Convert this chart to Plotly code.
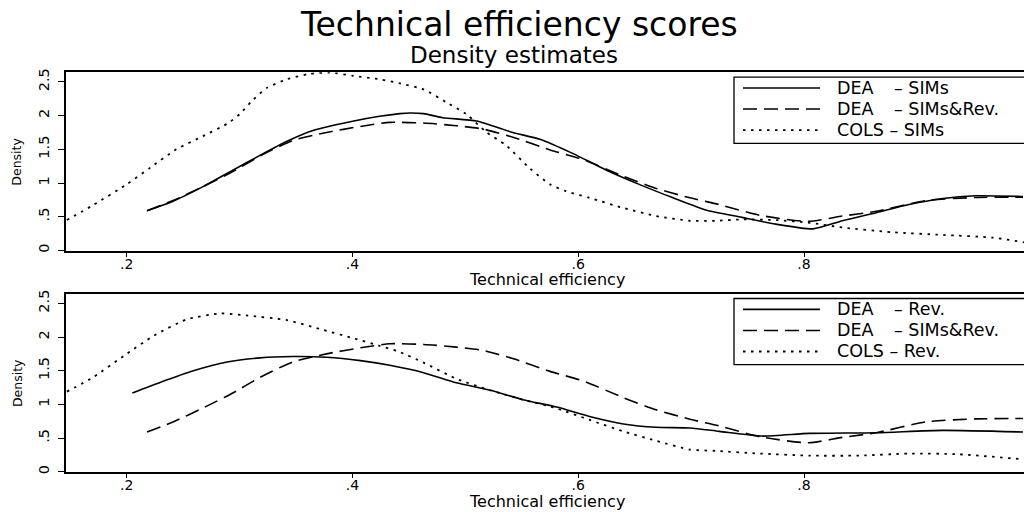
import plotly.graph_objects as go

W, H = 1024, 512
FONT = "DejaVu Sans"

# ---- density estimates of technical efficiency scores ----
# DEA on SIMs
dea_sims_x = [0.218, 0.241, 0.268, 0.294, 0.318, 0.342, 0.365, 0.398, 0.424, 0.442, 0.451, 0.463,
              0.480, 0.510, 0.542, 0.566, 0.595, 0.625, 0.654, 0.684, 0.713, 0.745, 0.775, 0.808,
              0.834, 0.864, 0.893, 0.923, 0.952, 0.994]
dea_sims_y = [0.59, 0.73, 0.95, 1.19, 1.41, 1.62, 1.78, 1.91, 1.99, 2.03, 2.04, 2.03,
              1.97, 1.92, 1.75, 1.65, 1.44, 1.19, 0.98, 0.78, 0.60, 0.49, 0.39, 0.32,
              0.44, 0.56, 0.68, 0.77, 0.81, 0.80]

# DEA on SIMs & revenue (shown in both panels)
dea_both_x = [0.218, 0.241, 0.268, 0.294, 0.318, 0.347, 0.377, 0.407, 0.433, 0.463, 0.492, 0.516,
              0.545, 0.575, 0.604, 0.640, 0.669, 0.699, 0.725, 0.761, 0.804, 0.834, 0.864, 0.908,
              0.952, 0.994]
dea_both_y = [0.59, 0.74, 0.95, 1.17, 1.40, 1.63, 1.75, 1.84, 1.90, 1.89, 1.85, 1.80,
              1.665, 1.49, 1.35, 1.10, 0.92, 0.78, 0.68, 0.52, 0.43, 0.51, 0.58, 0.74,
              0.785, 0.79]

# COLS on SIMs
cols_sims_x = [0.147, 0.170, 0.200, 0.221, 0.244, 0.268, 0.289, 0.300, 0.311, 0.324, 0.342, 0.362,
               0.380, 0.401, 0.424, 0.442, 0.463, 0.483, 0.501, 0.519, 0.536, 0.557, 0.575, 0.589,
               0.610, 0.640, 0.669, 0.699, 0.722, 0.746, 0.776, 0.805, 0.834, 0.878, 0.923, 0.967,
               0.995]
cols_sims_y = [0.45, 0.67, 0.98, 1.23, 1.50, 1.70, 1.88, 2.02, 2.22, 2.41, 2.54, 2.62,
               2.64, 2.59, 2.54, 2.48, 2.39, 2.20, 2.02, 1.75, 1.56, 1.22, 0.98, 0.88,
               0.78, 0.63, 0.51, 0.44, 0.44, 0.46, 0.45, 0.41, 0.34, 0.27, 0.23, 0.19,
               0.12]

# DEA on revenue
dea_rev_x = [0.205, 0.230, 0.259, 0.289, 0.318, 0.347, 0.377, 0.407, 0.433, 0.463, 0.492, 0.522,
             0.551, 0.581, 0.610, 0.640, 0.669, 0.699, 0.725, 0.763, 0.805, 0.864, 0.923, 0.994]
dea_rev_y = [1.17, 1.33, 1.50, 1.63, 1.69, 1.71, 1.70, 1.65, 1.58, 1.47, 1.32, 1.21,
             1.07, 0.96, 0.82, 0.71, 0.66, 0.65, 0.60, 0.53, 0.57, 0.58, 0.615, 0.59]

# COLS on revenue
cols_rev_x = [0.147, 0.170, 0.200, 0.224, 0.253, 0.283, 0.306, 0.342, 0.371, 0.401, 0.424, 0.440,
              0.463, 0.492, 0.522, 0.551, 0.581, 0.610, 0.640, 0.669, 0.699, 0.722, 0.761, 0.805,
              0.849, 0.893, 0.937, 0.994]
cols_rev_y = [1.19, 1.40, 1.75, 2.02, 2.26, 2.35, 2.32, 2.25, 2.12, 1.98, 1.87, 1.79,
              1.62, 1.38, 1.21, 1.07, 0.94, 0.77, 0.60, 0.46, 0.33, 0.31, 0.27, 0.24,
              0.24, 0.27, 0.26, 0.185]

x_ticks = [0.2, 0.4, 0.6, 0.8]
x_tick_text = [".2", ".4", ".6", ".8"]
y_ticks = [0, 0.5, 1, 1.5, 2, 2.5]
y_tick_text = ["0", ".5", "1", "1.5", "2", "2.5"]

top_legend = [("DEA", "\u2013 SIMs"), ("DEA", "\u2013 SIMs&Rev."), ("COLS \u2013 SIMs", None)]
bottom_legend = [("DEA", "\u2013 Rev."), ("DEA", "\u2013 SIMs&Rev."), ("COLS \u2013 Rev.", None)]

# ---- layout geometry (pixels) ----
PLOT_LEFT = 66
TOP_PANEL = (69, 250)       # top / bottom edge of upper plot region
BOTTOM_PANEL = (293, 474)   # top / bottom edge of lower plot region
X_RANGE = [0.1462, 0.9949]
Y_RANGE = [-0.01, 2.645]

STYLES = {
    "solid": dict(color="black", width=1.6, dash="solid"),
    "dash": dict(color="black", width=1.6, dash="14px,7px"),
    "dot": dict(color="black", width=1.8, dash="2.5px,5.5px"),
}


def py(pix):
    return 1 - pix / H


def px(pix):
    return pix / W


fig = go.Figure()

panels = [
    ("x", "y", [(dea_sims_x, dea_sims_y, "solid"), (dea_both_x, dea_both_y, "dash"),
                (cols_sims_x, cols_sims_y, "dot")]),
    ("x2", "y2", [(dea_rev_x, dea_rev_y, "solid"), (dea_both_x, dea_both_y, "dash"),
                  (cols_rev_x, cols_rev_y, "dot")]),
]
for xa, ya, series in panels:
    for xs, ys, style in series:
        fig.add_trace(go.Scatter(x=xs, y=ys, mode="lines", xaxis=xa, yaxis=ya,
                                 line=dict(shape="spline", smoothing=0.6, **STYLES[style]),
                                 showlegend=False, hoverinfo="skip"))

axis_common = dict(showgrid=False, zeroline=False, showline=True, linecolor="black",
                   linewidth=1.6, ticks="outside", tickwidth=1.4, tickcolor="black")
x_axis_style = dict(ticklen=4, ticklabelstandoff=-5,
                    tickfont=dict(family=FONT, size=14, color="black"), **axis_common)
y_axis_style = dict(ticklen=6, tickangle=-90, ticklabelstandoff=3,
                    tickfont=dict(family=FONT, size=14.5, color="black"), **axis_common)

xdom = [px(PLOT_LEFT), 1.0]
fig.update_layout(
    width=W, height=H, margin=dict(l=0, r=0, t=0, b=0),
    paper_bgcolor="white", plot_bgcolor="white",
    xaxis=dict(domain=xdom, range=X_RANGE, tickvals=x_ticks, ticktext=x_tick_text,
               anchor="y", mirror=True, **x_axis_style),
    yaxis=dict(domain=[py(TOP_PANEL[1]), py(TOP_PANEL[0])], range=Y_RANGE,
               tickvals=y_ticks, ticktext=y_tick_text, anchor="x", **y_axis_style),
    xaxis2=dict(domain=xdom, range=X_RANGE, tickvals=x_ticks, ticktext=x_tick_text,
                anchor="y2", mirror=True, **x_axis_style),
    yaxis2=dict(domain=[py(BOTTOM_PANEL[1]), py(BOTTOM_PANEL[0])], range=Y_RANGE,
                tickvals=y_ticks, ticktext=y_tick_text, anchor="x2", **y_axis_style),
)

annotations = [
    dict(text="Technical efficiency scores", x=px(519), y=py(21), font=dict(size=33)),
    dict(text="Density estimates", x=px(514), y=py(52), font=dict(size=23)),
]
for top, bottom in (TOP_PANEL, BOTTOM_PANEL):
    annotations.append(dict(text="Technical efficiency", x=px(547), y=py(bottom + 29),
                            font=dict(size=16)))
    annotations.append(dict(text="Density", x=px(17), y=py((top + bottom) / 2),
                            textangle=-90, font=dict(size=12.5)))

shapes = []
for (top, _), entries in ((TOP_PANEL, top_legend), (BOTTOM_PANEL, bottom_legend)):
    box_top, box_bottom = top + 5, top + 72
    shapes.append(dict(type="rect", xref="paper", yref="paper",
                       x0=px(734), x1=px(1040), y0=py(box_bottom), y1=py(box_top),
                       line=dict(color="black", width=1.3), fillcolor="white", layer="above"))
    for i, ((name, suffix), style) in enumerate(zip(entries, ["solid", "dash", "dot"])):
        row_y = top + 16 + i * 21.3
        st = STYLES[style]
        shapes.append(dict(type="line", xref="paper", yref="paper",
                           x0=px(743), x1=px(820), y0=py(row_y), y1=py(row_y),
                           line=dict(color="black", width=st["width"], dash=st["dash"]),
                           layer="above"))
        annotations.append(dict(text=name, x=px(835), y=py(row_y), xanchor="left",
                                font=dict(size=17.5)))
        if suffix:
            annotations.append(dict(text=suffix, x=px(892), y=py(row_y), xanchor="left",
                                    font=dict(size=17.5)))

for a in annotations:
    a.setdefault("xanchor", "center")
    a.update(xref="paper", yref="paper", yanchor="middle", showarrow=False)
    a["font"] = dict(family=FONT, color="black", **a["font"])

fig.update_layout(annotations=annotations, shapes=shapes)
fig.write_html("out.html")
